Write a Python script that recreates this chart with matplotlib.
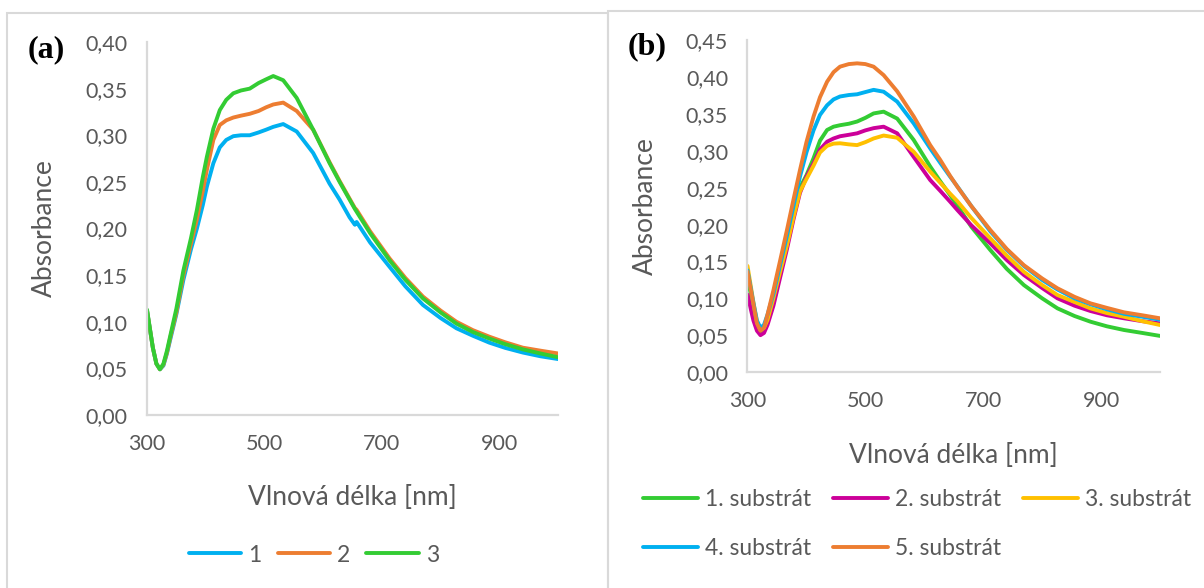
import matplotlib.pyplot as plt
from matplotlib.patches import Rectangle

# ---- data ----
# panel (a)
wl_a = [300, 310, 316, 322, 328, 334, 340, 350, 362, 375, 385, 395, 402, 413, 424, 435, 447,
        460, 475, 490, 503, 515, 532, 555, 583, 611, 628, 645, 654, 657, 680, 713, 740,
        770, 800, 827, 855, 883, 910, 940, 970, 1000]
abs_a1 = [0.112, 0.072, 0.055, 0.049, 0.053, 0.066, 0.082, 0.108, 0.145, 0.178, 0.200, 0.225,
          0.245, 0.270, 0.287, 0.295, 0.299, 0.300, 0.300, 0.303, 0.306, 0.309, 0.312, 0.304,
          0.281, 0.248, 0.231, 0.212, 0.204, 0.207, 0.185, 0.159, 0.138, 0.118, 0.104, 0.093,
          0.085, 0.0776, 0.072, 0.067, 0.063, 0.060]
abs_a2 = [0.112, 0.072, 0.055, 0.049, 0.054, 0.067, 0.084, 0.110, 0.150, 0.184, 0.210, 0.240,
          0.263, 0.295, 0.311, 0.316, 0.319, 0.321, 0.323, 0.326, 0.330, 0.333, 0.335, 0.326,
          0.306, 0.271, 0.251, 0.232, 0.222, 0.220, 0.197, 0.168, 0.147, 0.127, 0.112, 0.100,
          0.091, 0.084, 0.078, 0.0722, 0.069, 0.066]
abs_a3 = [0.113, 0.072, 0.055, 0.049, 0.055, 0.069, 0.086, 0.114, 0.155, 0.190, 0.220, 0.255,
          0.277, 0.307, 0.327, 0.338, 0.345, 0.348, 0.350, 0.356, 0.360, 0.3635, 0.359, 0.340,
          0.306, 0.270, 0.250, 0.231, 0.221, 0.218, 0.195, 0.166, 0.145, 0.125, 0.110, 0.098,
          0.089, 0.082, 0.076, 0.0704, 0.066, 0.062]
labels_a = ["1", "2", "3"]

# panel (b)
wl_b = [300, 310, 316, 322, 328, 334, 344, 355, 367, 378, 389, 400, 412, 423, 435, 446, 457,
        472, 486, 500, 514, 531, 554, 582, 610, 627, 644, 656, 680, 712, 740, 769, 800,
        826, 855, 882, 910, 939, 970, 1000]
abs_b1 = [0.130, 0.085, 0.062, 0.053, 0.056, 0.068, 0.094, 0.132, 0.172, 0.212, 0.250, 0.267,
          0.290, 0.314, 0.3285, 0.333, 0.335, 0.337, 0.340, 0.345, 0.351, 0.3534, 0.344, 0.315,
          0.279, 0.259, 0.240, 0.226, 0.197, 0.1656, 0.140, 0.118, 0.100, 0.0864, 0.076,
          0.0683, 0.062, 0.057, 0.053, 0.049]
abs_b2 = [0.105, 0.070, 0.056, 0.050, 0.053, 0.064, 0.090, 0.127, 0.167, 0.207, 0.243, 0.265,
          0.283, 0.302, 0.3126, 0.317, 0.320, 0.322, 0.324, 0.328, 0.331, 0.333, 0.324, 0.292,
          0.2606, 0.246, 0.231, 0.220, 0.199, 0.1747, 0.152, 0.1317, 0.114, 0.100, 0.090,
          0.0828, 0.077, 0.0729, 0.069, 0.066]
abs_b3 = [0.144, 0.095, 0.068, 0.057, 0.060, 0.071, 0.100, 0.135, 0.172, 0.210, 0.245, 0.262,
          0.280, 0.298, 0.307, 0.310, 0.3105, 0.309, 0.308, 0.312, 0.317, 0.321, 0.318, 0.299,
          0.272, 0.257, 0.242, 0.232, 0.209, 0.1815, 0.158, 0.136, 0.118, 0.1045, 0.095,
          0.0864, 0.080, 0.075, 0.069, 0.0638]
abs_b4 = [0.138, 0.094, 0.070, 0.060, 0.064, 0.078, 0.106, 0.144, 0.185, 0.225, 0.265, 0.298,
          0.328, 0.349, 0.362, 0.370, 0.374, 0.376, 0.377, 0.380, 0.383, 0.3805, 0.367, 0.3375,
          0.3036, 0.284, 0.265, 0.252, 0.225, 0.191, 0.166, 0.144, 0.125, 0.112, 0.100,
          0.092, 0.085, 0.079, 0.075, 0.071]
abs_b5 = [0.136, 0.092, 0.066, 0.056, 0.060, 0.078, 0.111, 0.150, 0.193, 0.234, 0.274, 0.312,
          0.3466, 0.373, 0.394, 0.407, 0.4145, 0.418, 0.419, 0.418, 0.4145, 0.403, 0.381, 0.347,
          0.308, 0.288, 0.266, 0.2516, 0.225, 0.1928, 0.167, 0.145, 0.127, 0.1136, 0.102,
          0.0932, 0.087, 0.081, 0.077, 0.0729]
labels_b = ["1. substrát", "2. substrát", "3. substrát", "4. substrát", "5. substrát"]

x_ticks = [300, 500, 700, 900]

blue = "#00B0F0"
orange = "#ED7D31"
green = "#33CC33"
magenta = "#CC0099"
yellow = "#FFC000"
gray_txt = "#595959"
gray_line = "#D9D9D9"

plt.rcParams['font.family'] = ['Lato', 'DejaVu Sans']

fig = plt.figure(figsize=(12.04, 5.88), dpi=100)


def style_axes(ax, ymax, ystep):
    for s in ['top', 'right']:
        ax.spines[s].set_visible(False)
    for s in ['left', 'bottom']:
        ax.spines[s].set_color(gray_line)
        ax.spines[s].set_linewidth(1.6)
    ax.set_xlim(300, 1000)
    ax.set_ylim(0, ymax)
    ax.set_xticks(x_ticks)
    yt = [i * ystep for i in range(int(round(ymax / ystep)) + 1)]
    ax.set_yticks(yt)
    ax.set_yticklabels([("%.2f" % v).replace(".", ",") for v in yt])
    ax.tick_params(length=0, labelsize=15.5, colors=gray_txt)
    ax.tick_params(axis='y', pad=14)
    ax.tick_params(axis='x', pad=14)
    ax.set_xlabel("Vlnová délka [nm]", fontsize=19, color=gray_txt)
    ax.set_ylabel("Absorbance", fontsize=19, color=gray_txt)


# panel (a)
ax1 = fig.add_axes([147 / 1204, 1 - 415 / 588, 411 / 1204, 373 / 588])
for ys, c, lab in zip([abs_a1, abs_a2, abs_a3], [blue, orange, green], labels_a):
    ax1.plot(wl_a, ys, color=c, lw=2.8, label=lab, solid_capstyle='round')
style_axes(ax1, 0.40, 0.05)
ax1.xaxis.set_label_coords(0.5, -0.189)
ax1.yaxis.set_label_coords(-0.219, 0.5)
fig.legend(*ax1.get_legend_handles_labels(), loc='center', bbox_to_anchor=(314 / 1204, 1 - 555 / 588),
           ncol=3, frameon=False, fontsize=16.5, handlelength=2.3, handletextpad=0.3,
           columnspacing=0.7, labelcolor=gray_txt)

# panel (b)
ax2 = fig.add_axes([747.5 / 1204, 1 - 372 / 588, 412.5 / 1204, 331.5 / 588])
for ys, c, lab in zip([abs_b1, abs_b2, abs_b3, abs_b4, abs_b5],
                      [green, magenta, yellow, blue, orange], labels_b):
    ax2.plot(wl_b, ys, color=c, lw=2.8, label=lab, solid_capstyle='round')
style_axes(ax2, 0.45, 0.05)
ax2.xaxis.set_label_coords(0.5, -0.2127)
ax2.yaxis.set_label_coords(-0.216, 0.5)
h, l = ax2.get_legend_handles_labels()
order = [0, 3, 1, 4, 2]  # legend fills by column, so reorder to read row-wise
fig.legend([h[i] for i in order], [l[i] for i in order], loc='center',
           bbox_to_anchor=(917 / 1204, 1 - 524 / 588),
           ncol=3, frameon=False, fontsize=16.5, handlelength=2.4, handletextpad=0.3,
           columnspacing=0.95, labelspacing=1.2, labelcolor=gray_txt)

# panel letters
fig.text(46 / 1204, 1 - 50 / 588, "(a)", fontsize=23, fontweight='bold',
         family='Liberation Serif', ha='center', va='center')
fig.text(647 / 1204, 1 - 47 / 588, "(b)", fontsize=23, fontweight='bold',
         family='Liberation Serif', ha='center', va='center')

# frames around the two panels
fig.add_artist(Rectangle((7 / 1204, -0.1), (608 - 7) / 1204, 1.1 - 13 / 588,
                         transform=fig.transFigure, fill=False, ec=gray_line, lw=1.5))
fig.add_artist(Rectangle((608 / 1204, -0.1), 0.5, 1.1 - 11 / 588,
                         transform=fig.transFigure, fill=False, ec=gray_line, lw=1.5))

fig.savefig("out.png", dpi=100)
